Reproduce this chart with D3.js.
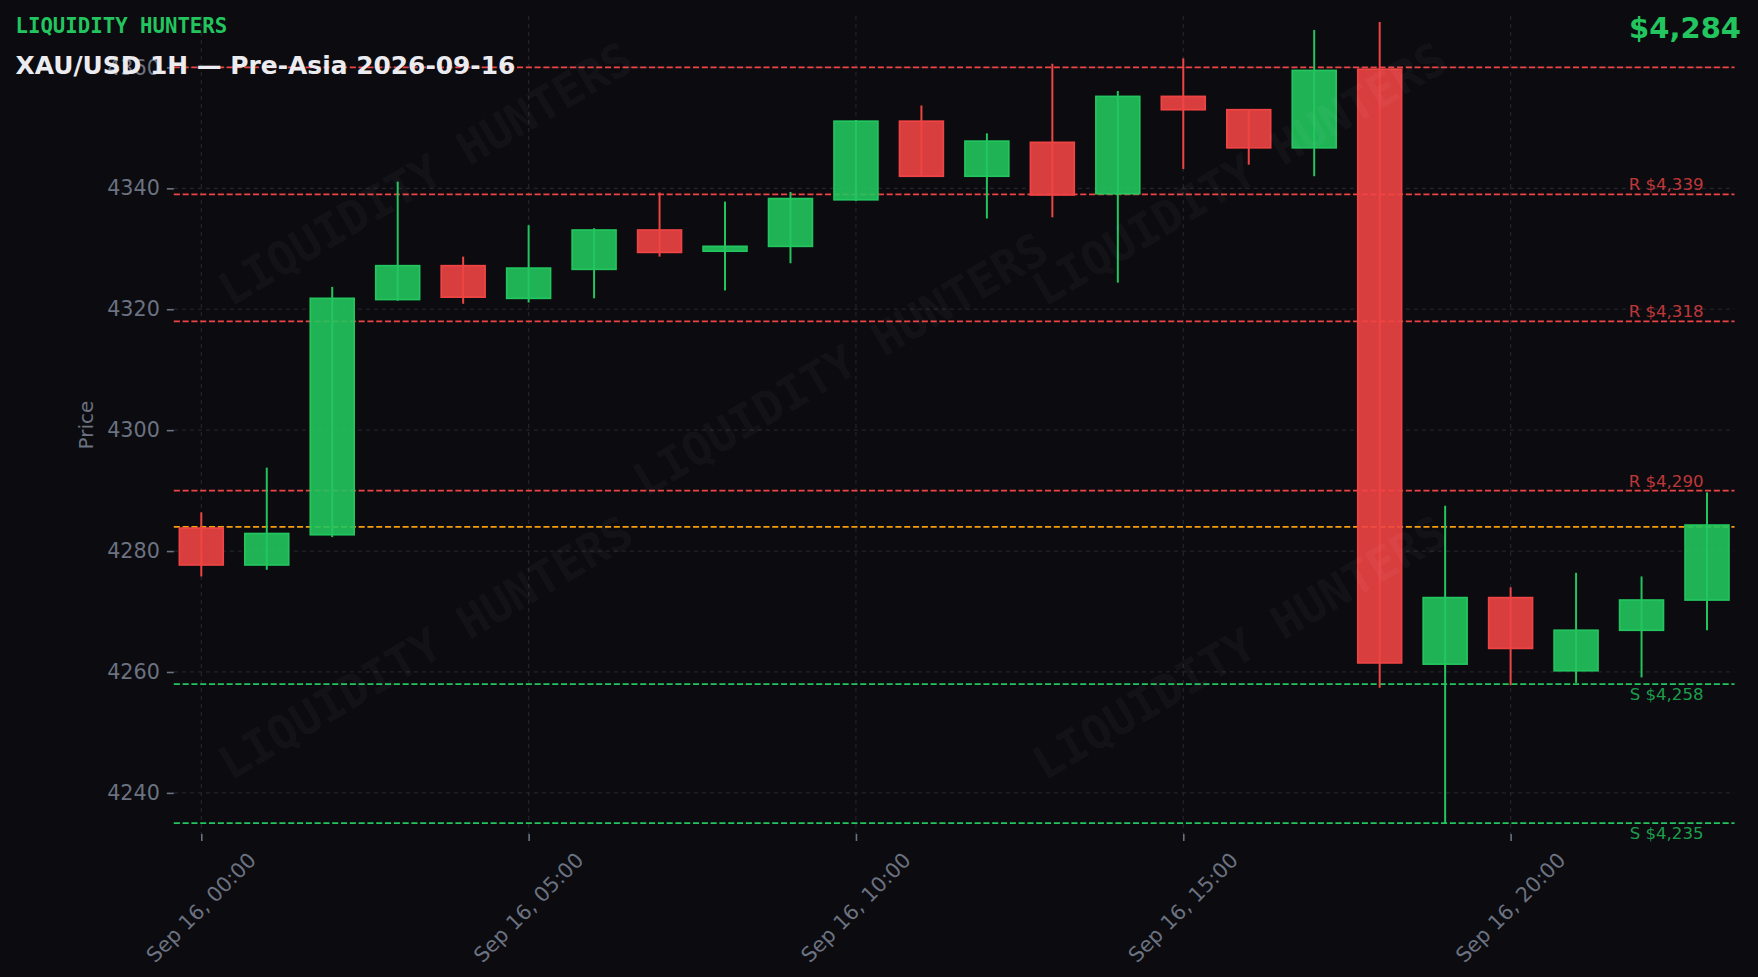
<!DOCTYPE html>
<html>
<head>
<meta charset="utf-8">
<script src="https://cdn.jsdelivr.net/npm/d3@7"></script>
<style>
  html, body { margin: 0; padding: 0; background: #0b0b10; }
  svg { display: block; }
</style>
</head>
<body>
<svg id="chart" width="1758" height="977"></svg>
<script>
// ---------- DATA ----------
const hours  = [0,1,2,3,4,5,6,7,8,9,10,11,12,13,14,15,16,17,18,19,20,21,22,23];
const opens  = [4283.8,4277.7,4282.7,4321.6,4327.2,4321.8,4326.6,4333.1,4329.6,4330.4,4338.1,4351.1,4342.0,4347.6,4339.1,4355.2,4353.0,4346.7,4359.7,4261.3,4272.3,4260.2,4266.9,4271.9];
const highs  = [4286.4,4293.8,4323.7,4341.1,4328.7,4333.9,4333.4,4339.3,4337.8,4339.4,4351.3,4353.7,4349.1,4360.6,4356.1,4361.5,4353.0,4366.2,4367.5,4287.5,4274.0,4276.4,4275.8,4289.7];
const lows   = [4275.8,4276.9,4282.3,4321.4,4320.9,4321.1,4321.8,4328.7,4323.1,4327.6,4337.9,4342.0,4335.0,4335.2,4324.4,4343.2,4343.9,4342.0,4257.4,4235.0,4257.8,4258.2,4259.1,4266.9];
const closes = [4277.7,4282.9,4321.8,4327.2,4322.0,4326.8,4333.1,4329.4,4330.4,4338.3,4351.1,4342.0,4347.8,4338.9,4355.2,4353.0,4346.7,4359.5,4261.5,4272.3,4263.9,4266.9,4271.9,4284.3];

const resistance = [4360, 4339, 4318, 4290];
const resistanceLabels = [null, "R $4,339", "R $4,318", "R $4,290"];
const support = [4258, 4235];
const supportLabels = ["S $4,258", "S $4,235"];
const currentPrice = 4284;

const yTicks = [4240, 4260, 4280, 4300, 4320, 4340, 4360];
const xTicks = [0, 5, 10, 15, 20];
const xTickLabels = ["Sep 16, 00:00", "Sep 16, 05:00", "Sep 16, 10:00", "Sep 16, 15:00", "Sep 16, 20:00"];

const brand = "LIQUIDITY HUNTERS";
const title = "XAU/USD 1H \u2014 Pre-Asia 2026-09-16";
const priceLabel = "$4,284";

// ---------- LAYOUT ----------
(function () {
const W = 1758, H = 977;
const pLeft = 173.8, pRight = 1734.5, pTop = 16, pBottom = 834;
const UP = "#22c55e", DOWN = "#ef4444", ORANGE = "#f59e0b";
const GRID = "#24242d", TICKC = "#6b7280";
const FONT = "'DejaVu Sans', sans-serif";
const MONO = "'DejaVu Sans Mono', monospace";

const svg = d3.select("#chart");
svg.append("rect").attr("width", W).attr("height", H).attr("fill", "#0b0b10");

const x = d3.scaleLinear().domain([-0.42, 23.42]).range([pLeft, pRight]);
const y = d3.scaleLinear().domain([4233.2, 4368.5]).range([pBottom, pTop]);

const plot = svg.append("g");

// grid
plot.append("g").selectAll("line").data(yTicks).join("line")
  .attr("x1", pLeft).attr("x2", pRight)
  .attr("y1", d => y(d)).attr("y2", d => y(d))
  .attr("stroke", GRID).attr("stroke-width", 1.2).attr("stroke-dasharray", "4,4");
plot.append("g").selectAll("line").data(xTicks).join("line")
  .attr("y1", pTop).attr("y2", pBottom)
  .attr("x1", d => x(d)).attr("x2", d => x(d))
  .attr("stroke", GRID).attr("stroke-width", 1.2).attr("stroke-dasharray", "4,4");

// axes
const yAxis = d3.axisLeft(y).tickValues(yTicks).tickSize(7).tickPadding(7).tickFormat(d3.format("d"));
const gy = svg.append("g").attr("transform", `translate(${pLeft},0)`).call(yAxis);
gy.select(".domain").remove();
gy.selectAll(".tick line").attr("stroke", TICKC).attr("stroke-width", 1.6);
gy.selectAll(".tick text").attr("fill", TICKC).attr("font-family", FONT).attr("font-size", 20.7);

const xAxis = d3.axisBottom(x).tickValues(xTicks).tickSize(7).tickFormat("");
const gx = svg.append("g").attr("transform", `translate(0,${pBottom})`).call(xAxis);
gx.select(".domain").remove();
gx.selectAll(".tick line").attr("stroke", TICKC).attr("stroke-width", 1.6);

// rotated x labels (centered bbox under tick)
const xl = svg.append("g");
xTicks.forEach((t, i) => {
  const txt = xl.append("text")
    .attr("font-family", FONT).attr("font-size", 20.7).attr("fill", TICKC)
    .attr("text-anchor", "middle").attr("dominant-baseline", "central")
    .text(xTickLabels[i]);
  const L = txt.node().getComputedTextLength();
  const h = 20.7 * 1.17;
  const bh = (L + h) * Math.SQRT1_2;
  const cy = pBottom + 7 + 7 + bh / 2;
  txt.attr("transform", `translate(${x(t)},${cy}) rotate(-45)`);
});

// y label
svg.append("text")
  .attr("transform", `translate(86,${(pTop + pBottom) / 2}) rotate(-90)`)
  .attr("text-anchor", "middle").attr("dominant-baseline", "central")
  .attr("font-family", FONT).attr("font-size", 20).attr("fill", TICKC)
  .text("Price");

// level lines
const levels = plot.append("g");
levels.selectAll(".res").data(resistance).join("line")
  .attr("x1", pLeft).attr("x2", pRight)
  .attr("y1", d => y(d)).attr("y2", d => y(d))
  .attr("stroke", DOWN).attr("stroke-width", 1.7).attr("stroke-dasharray", "6.1,2.7");
levels.selectAll(".sup").data(support).join("line")
  .attr("x1", pLeft).attr("x2", pRight)
  .attr("y1", d => y(d)).attr("y2", d => y(d))
  .attr("stroke", UP).attr("stroke-width", 1.7).attr("stroke-dasharray", "6.1,2.7");
levels.append("line")
  .attr("x1", pLeft).attr("x2", pRight)
  .attr("y1", y(currentPrice)).attr("y2", y(currentPrice))
  .attr("stroke", ORANGE).attr("stroke-width", 1.7).attr("stroke-dasharray", "6.1,2.7");

// candles
const bw = 0.67;
const candles = plot.append("g");
hours.forEach((h, i) => {
  const up = closes[i] >= opens[i];
  const c = up ? UP : DOWN;
  candles.append("line")
    .attr("x1", x(h)).attr("x2", x(h))
    .attr("y1", y(highs[i])).attr("y2", y(lows[i]))
    .attr("stroke", c).attr("stroke-width", 2);
  const yt = y(Math.max(opens[i], closes[i]));
  const yb = y(Math.min(opens[i], closes[i]));
  candles.append("rect")
    .attr("x", x(h - bw / 2)).attr("width", x(h + bw / 2) - x(h - bw / 2))
    .attr("y", yt).attr("height", Math.max(yb - yt, 1))
    .attr("fill", c).attr("fill-opacity", 0.9)
    .attr("stroke", c).attr("stroke-width", 1.7);
});

// level labels
const lab = plot.append("g");
const labX = x(23) - 3.5;
resistance.forEach((r, i) => {
  if (!resistanceLabels[i]) return;
  lab.append("text")
    .attr("x", labX).attr("y", y(r) - 4)
    .attr("text-anchor", "end")
    .attr("font-family", FONT).attr("font-size", 16.6)
    .attr("fill", DOWN).attr("fill-opacity", 0.8)
    .text(resistanceLabels[i]);
});
support.forEach((s, i) => {
  lab.append("text")
    .attr("x", labX).attr("y", y(s) + 4)
    .attr("text-anchor", "end").attr("dominant-baseline", "hanging")
    .attr("font-family", FONT).attr("font-size", 16.6)
    .attr("fill", UP).attr("fill-opacity", 0.8)
    .text(supportLabels[i]);
});

// watermarks
const wm = [[0.242, 0.178], [0.478, 0.373], [0.705, 0.178], [0.242, 0.663], [0.705, 0.663]];
svg.append("g").selectAll("text").data(wm).join("text")
  .attr("transform", d => `translate(${d[0] * W},${d[1] * H}) rotate(-30.5)`)
  .attr("text-anchor", "middle").attr("dominant-baseline", "central")
  .attr("font-family", MONO).attr("font-weight", "bold").attr("font-size", 46)
  .attr("fill", "#ffffff").attr("fill-opacity", 0.05)
  .text(brand);

// header texts
svg.append("text")
  .attr("x", 15.5).attr("y", 26).attr("dominant-baseline", "central")
  .attr("font-family", MONO).attr("font-weight", "bold").attr("font-size", 20.7)
  .attr("fill", UP).text(brand);
svg.append("text")
  .attr("x", 15.5).attr("y", 65).attr("dominant-baseline", "central")
  .attr("font-family", FONT).attr("font-weight", "bold").attr("font-size", 24.9)
  .attr("fill", "#ececf0").text(title);
svg.append("text")
  .attr("x", 1741).attr("y", 28).attr("dominant-baseline", "central")
  .attr("text-anchor", "end")
  .attr("font-family", FONT).attr("font-weight", "bold").attr("font-size", 29)
  .attr("fill", UP).text(priceLabel);
})();
</script>
</body>
</html>
